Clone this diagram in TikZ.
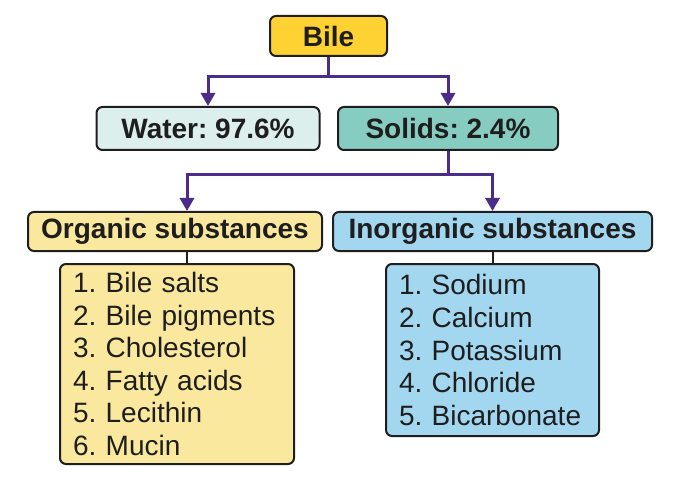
\documentclass[tikz,border=0pt]{standalone}
\usepackage{fontspec}
\setmainfont{Liberation Sans}
\usetikzlibrary{%
        arrows.meta,
        positioning
    }
\definecolor{bilegold}{HTML}{FDD232}
\definecolor{waterteal}{HTML}{DCEFEC}
\definecolor{solidteal}{HTML}{86CCC1}
\definecolor{orgyellow}{HTML}{FAE89E}
\definecolor{inorgblue}{HTML}{A3D7EF}
\definecolor{linkpurple}{HTML}{4B2C88}
\definecolor{inkgray}{HTML}{1E1E1E}
\frenchspacing
\tikzset{
    box/.style={draw=inkgray, line width=2pt, rounded corners=6pt,
        text=inkgray, font=\fontsize{28}{32.6}\selectfont, inner sep=0pt},
    head/.style={box, font=\fontsize{28}{32.6}\selectfont\bfseries},
    listbox/.style={box, align=left, anchor=north west, inner xsep=13pt},
    link/.style={draw=linkpurple, line width=3pt},
    arrowlink/.style={link, -{Triangle[width=14pt, length=13pt]}}
}

\begin{document}
\begin{tikzpicture}[x=1pt, y=-1pt]

    \useasboundingbox (0, 0) rectangle (680, 481);

    \node[head, fill=bilegold, minimum width=117pt, minimum height=40pt]
        (bile) at (328.5, 36) {Bile};
    \node[head, fill=waterteal, minimum width=223pt, minimum height=43pt]
        (water) at (208, 128.5) {Water: 97.6\%};
    \node[head, fill=solidteal, minimum width=220pt, minimum height=43pt]
        (solids) at (448, 128.5) {Solids: 2.4\%};

    \node[head, fill=orgyellow, minimum width=294pt, minimum height=39pt]
        (organic) at (175, 231.5) {Organic substances};
    \node[head, fill=inorgblue, minimum width=319pt, minimum height=39pt]
        (inorganic) at (492.5, 231.5) {Inorganic substances};

    \node[listbox, fill=orgyellow, text width=208pt, minimum height=200pt]
        (orglist) at (59, 263) {1. Bile salts\\ 2. Bile pigments\\
        3. Cholesterol\\ 4. Fatty acids\\ 5. Lecithin\\ 6. Mucin};
    \node[listbox, fill=inorgblue, text width=187pt, minimum height=172pt]
        (inorglist) at (385, 263) {1. Sodium\\ 2. Calcium\\
        3. Potassium\\ 4. Chloride\\ 5. Bicarbonate};

    % splits
    \coordinate (split1) at (bile.south |- 0, 77);
    \coordinate (split2) at (solids.south |- 0, 175);
    \coordinate (orgtop) at ([xshift=12pt]organic.north);
    \coordinate (orgbot) at ([xshift=12pt]organic.south);

    \draw[link] (bile.south) -- (split1);
    \draw[arrowlink] (split1) -| (water.north);
    \draw[arrowlink] (split1) -| (solids.north);

    \draw[link] (solids.south) -- (split2);
    \draw[arrowlink] (split2) -| (orgtop);
    \draw[arrowlink] (split2) -| (inorganic.north);

    \draw[link, draw=inkgray, line width=2pt] (orgbot) -- (orgbot |- orglist.north);
    \draw[link, draw=inkgray, line width=2pt]
        (inorganic.south) -- (inorganic.south |- inorglist.north);

\end{tikzpicture}
\end{document}
